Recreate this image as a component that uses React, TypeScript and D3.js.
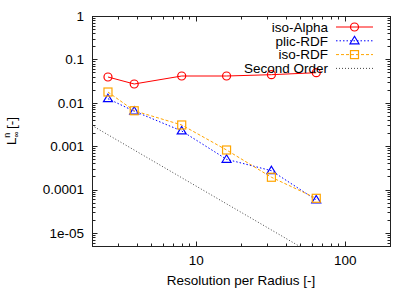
import { useRef, useEffect } from 'react';
import * as d3 from 'd3';

// resolution per radius (x) and error norms per method
const resolution = [2.56, 3.84, 8, 16, 32, 64];
const isoAlpha = [0.0393, 0.0271, 0.0414, 0.0414, 0.0444, 0.0493];
const plicRDF = [0.0124, 0.0064, 0.00224, 0.000498, 0.000272, 0.0000574];
const isoRDF = [0.0177, 0.00655, 0.00308, 0.000816, 0.000192, 0.0000629];
// reference slope line, two end points (clipped by the plot area)
const secondOrderX = [2, 200];
const secondOrderY = [0.003, 0.0000003];

const yTickValues = [1, 0.1, 0.01, 0.001, 0.0001, 0.00001];
const yTickLabels = ['1', '0.1', '0.01', '0.001', '0.0001', '1e-05'];
const xTickValues = [10, 100];
const xTickLabels = ['10', '100'];
const legendLabels = ['iso-Alpha', 'plic-RDF', 'iso-RDF', 'Second Order'];

const WIDTH = 415;
const HEIGHT = 291;
const FONT = '"Liberation Sans", Arial, sans-serif';

export default function App() {
  const svgRef = useRef<SVGSVGElement | null>(null);

  useEffect(() => {
    const margin = { left: 92, right: 25, top: 16, bottom: 45 };
    const innerW = WIDTH - margin.left - margin.right;
    const innerH = HEIGHT - margin.top - margin.bottom;

    const svg = d3.select(svgRef.current);
    svg.selectAll('*').remove();

    const x = d3.scaleLog().domain([2, 200]).range([margin.left, margin.left + innerW]);
    const y = d3.scaleLog().domain([0.000005, 1]).range([margin.top + innerH, margin.top]);

    svg.append('defs')
      .append('clipPath')
      .attr('id', 'plot-clip')
      .append('rect')
      .attr('x', margin.left)
      .attr('y', margin.top)
      .attr('width', innerW)
      .attr('height', innerH);

    const x0 = margin.left + 0.5;
    const x1 = margin.left + innerW + 0.5;
    const y0 = margin.top + 0.5;
    const y1 = margin.top + innerH + 0.5;

    // minor + major ticks, mirrored like gnuplot
    const ticks = svg.append('g').attr('stroke', '#222').attr('stroke-width', 1);
    const yMinor: number[] = [];
    for (let e = -6; e <= 0; e++) {
      for (let m = 2; m <= 9; m++) {
        const v = m * 10 ** e;
        if (v > 0.000005 && v < 1) yMinor.push(v);
      }
    }
    const xMinor: number[] = [];
    for (let e = 0; e <= 2; e++) {
      for (let m = 2; m <= 9; m++) {
        const v = m * 10 ** e;
        if (v > 2 && v < 200) xMinor.push(v);
      }
    }
    yMinor.forEach((v) => {
      const py = Math.round(y(v)) + 0.5;
      ticks.append('line').attr('x1', x0).attr('x2', x0 + 3).attr('y1', py).attr('y2', py);
      ticks.append('line').attr('x1', x1).attr('x2', x1 - 3).attr('y1', py).attr('y2', py);
    });
    yTickValues.forEach((v) => {
      const py = Math.round(y(v)) + 0.5;
      ticks.append('line').attr('x1', x0).attr('x2', x0 + 5).attr('y1', py).attr('y2', py);
      ticks.append('line').attr('x1', x1).attr('x2', x1 - 5).attr('y1', py).attr('y2', py);
    });
    xMinor.forEach((v) => {
      const px = Math.round(x(v)) + 0.5;
      ticks.append('line').attr('x1', px).attr('x2', px).attr('y1', y1).attr('y2', y1 - 3);
      ticks.append('line').attr('x1', px).attr('x2', px).attr('y1', y0).attr('y2', y0 + 3);
    });
    xTickValues.forEach((v) => {
      const px = Math.round(x(v)) + 0.5;
      ticks.append('line').attr('x1', px).attr('x2', px).attr('y1', y1).attr('y2', y1 - 5);
      ticks.append('line').attr('x1', px).attr('x2', px).attr('y1', y0).attr('y2', y0 + 5);
    });

    // border
    svg.append('rect')
      .attr('x', x0)
      .attr('y', y0)
      .attr('width', innerW)
      .attr('height', innerH)
      .attr('fill', 'none')
      .attr('stroke', '#222')
      .attr('stroke-width', 1);

    // tick labels
    svg.append('g')
      .selectAll('text')
      .data(yTickValues)
      .join('text')
      .attr('x', margin.left - 8)
      .attr('y', (d) => y(d))
      .attr('dy', '0.35em')
      .attr('text-anchor', 'end')
      .text((d, i) => yTickLabels[i]);

    svg.append('g')
      .selectAll('text')
      .data(xTickValues)
      .join('text')
      .attr('x', (d) => x(d))
      .attr('y', y1 + 18)
      .attr('text-anchor', 'middle')
      .text((d, i) => xTickLabels[i]);

    svg.append('text')
      .attr('x', margin.left + innerW / 2)
      .attr('y', 285)
      .attr('text-anchor', 'middle')
      .text('Resolution per Radius [-]');

    const yLabel = svg.append('text')
      .attr('transform', `translate(16, ${margin.top + innerH / 2}) rotate(-90)`)
      .attr('text-anchor', 'middle');
    yLabel.append('tspan').text('L');
    yLabel.append('tspan').attr('font-size', 8).attr('dy', 3).text('∞');
    yLabel.append('tspan').attr('font-size', 9).attr('dx', -6).attr('dy', -9).text('n');
    yLabel.append('tspan').attr('dy', 6).text(' [-]');

    // series
    const series = [
      { values: isoAlpha, color: '#ff0000', dash: null, marker: 'circle' },
      { values: plicRDF, color: '#0000ff', dash: '1.5,2', marker: 'triangle' },
      { values: isoRDF, color: '#ffa500', dash: '3,2', marker: 'square' },
    ];

    const line = d3.line<[number, number]>()
      .x((d) => x(d[0]))
      .y((d) => y(d[1]));

    const plot = svg.append('g').attr('clip-path', 'url(#plot-clip)');

    plot.append('path')
      .datum(secondOrderX.map((v, i) => [v, secondOrderY[i]] as [number, number]))
      .attr('d', line)
      .attr('fill', 'none')
      .attr('stroke', '#444')
      .attr('stroke-width', 1)
      .attr('stroke-dasharray', '1,2');

    const drawMarker = (g: any, kind: string, cx: number, cy: number, color: string) => {
      if (kind === 'circle') {
        g.append('circle').attr('cx', cx).attr('cy', cy).attr('r', 4)
          .attr('fill', 'none').attr('stroke', color).attr('stroke-width', 1.2);
      } else if (kind === 'square') {
        g.append('rect').attr('x', cx - 4).attr('y', cy - 4).attr('width', 8).attr('height', 8)
          .attr('fill', 'none').attr('stroke', color).attr('stroke-width', 1.2);
      } else {
        g.append('path')
          .attr('d', `M${cx},${cy - 4.5}L${cx + 4.5},${cy + 3}L${cx - 4.5},${cy + 3}Z`)
          .attr('fill', 'none').attr('stroke', color).attr('stroke-width', 1.2);
      }
    };

    series.forEach((s) => {
      const pts = resolution.map((r, i) => [r, s.values[i]] as [number, number]);
      plot.append('path')
        .datum(pts)
        .attr('d', line)
        .attr('fill', 'none')
        .attr('stroke', s.color)
        .attr('stroke-width', 1)
        .attr('stroke-dasharray', s.dash);
      pts.forEach((p) => drawMarker(plot, s.marker, x(p[0]), y(p[1]), s.color));
    });

    // legend
    const legend = svg.append('g');
    const legendStyles = [
      ...series.map((s) => ({ color: s.color, dash: s.dash, marker: s.marker })),
      { color: '#444', dash: '1,2', marker: null },
    ];
    legendLabels.forEach((label, i) => {
      const ly = 27 + i * 13.8;
      legend.append('text')
        .attr('x', 328)
        .attr('y', ly)
        .attr('dy', '0.35em')
        .attr('text-anchor', 'end')
        .text(label);
      const st = legendStyles[i];
      legend.append('line')
        .attr('x1', 336).attr('x2', 373)
        .attr('y1', ly).attr('y2', ly)
        .attr('stroke', st.color)
        .attr('stroke-width', 1)
        .attr('stroke-dasharray', st.dash);
      if (st.marker) drawMarker(legend, st.marker, 354.5, ly, st.color);
    });
  }, []);

  return (
    <svg
      ref={svgRef}
      width={WIDTH}
      height={HEIGHT}
      style={{ position: 'absolute', left: 0, top: 0, background: '#fff' }}
      fontFamily={FONT}
      fontSize={13.5}
      fill="#000"
    />
  );
}
